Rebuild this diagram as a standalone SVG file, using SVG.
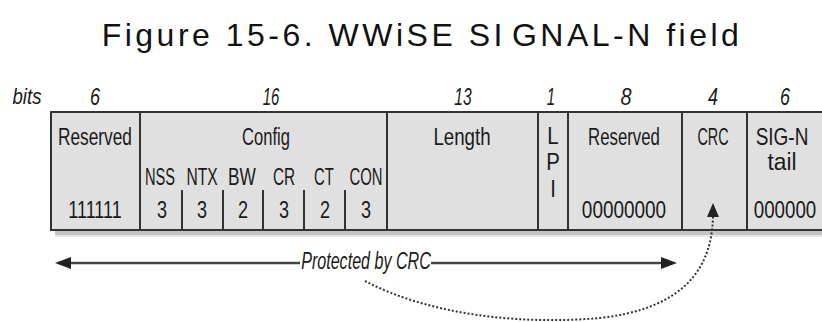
<svg xmlns="http://www.w3.org/2000/svg" width="822" height="322" viewBox="0 0 822 322">
<defs>
<style>
.title{font-family:"Liberation Sans",Arial,sans-serif;font-size:32px;fill:#111;letter-spacing:3.5px}
.t{font-family:"Liberation Sans",Arial,sans-serif;font-size:24px;fill:#1a1a1a;text-anchor:middle}
.i{font-family:"Liberation Sans",Arial,sans-serif;font-size:23px;font-style:italic;fill:#1a1a1a;text-anchor:middle}
.cell{fill:#e0e0e0;stroke:#333;stroke-width:2}
.div{stroke:#333;stroke-width:2;fill:none}
.arr{stroke:#444;stroke-width:2.5;fill:none}
.dot{stroke:#333;stroke-width:2;fill:none;stroke-dasharray:2 2}
.head{fill:#222}
</style>
</defs>
<rect width="822" height="322" fill="#fff"/>
<text class="title" x="422" y="46" text-anchor="middle">Figure 15-6. WWiSE SI<tspan dx="6">GNAL-N field</tspan></text>

<g id="bitwidths">
<text class="i" transform="matrix(0.81 0 0 1 27 104)">bits</text>
<text class="i" transform="matrix(0.78 0 0 1 95 105)">6</text>
<text class="i" transform="matrix(0.65 0 0 1 271 105)">16</text>
<text class="i" transform="matrix(0.68 0 0 1 463 105)">13</text>
<text class="i" transform="matrix(0.65 0 0 1 551 105)">1</text>
<text class="i" transform="matrix(0.86 0 0 1 626 105)">8</text>
<text class="i" transform="matrix(0.78 0 0 1 713 105)">4</text>
<text class="i" transform="matrix(0.78 0 0 1 785 105)">6</text>
</g>

<rect x="55" y="230" width="780" height="5" fill="#c4c4c4"/>
<rect x="55" y="235" width="780" height="2" fill="#e6e6e6"/>
<rect class="cell" x="51" y="112" width="790" height="118"/>

<g id="reserved1">
<text class="t" transform="matrix(0.72 0 0 1 95 145)">Reserved</text>
<text class="t" transform="matrix(0.75 0 0 1 95 218)">111111</text>
</g>
<g id="config">
<line class="div" x1="140" y1="112" x2="140" y2="230"/>
<text class="t" transform="matrix(0.69 0 0 1 266 145)">Config</text>
<text class="t" transform="matrix(0.61 0 0 1 160 185)">NSS</text>
<text class="t" transform="matrix(0.65 0 0 1 202 185)">NTX</text>
<text class="t" transform="matrix(0.72 0 0 1 242 185)">BW</text>
<text class="t" transform="matrix(0.64 0 0 1 284 185)">CR</text>
<text class="t" transform="matrix(0.62 0 0 1 324 185)">CT</text>
<text class="t" transform="matrix(0.62 0 0 1 366 185)">CON</text>
<line class="div" x1="182" y1="190" x2="182" y2="230"/>
<line class="div" x1="223" y1="190" x2="223" y2="230"/>
<line class="div" x1="263" y1="190" x2="263" y2="230"/>
<line class="div" x1="304" y1="190" x2="304" y2="230"/>
<line class="div" x1="345" y1="190" x2="345" y2="230"/>
<text class="t" transform="matrix(0.75 0 0 1 162 218)">3</text>
<text class="t" transform="matrix(0.75 0 0 1 202 218)">3</text>
<text class="t" transform="matrix(0.75 0 0 1 243 218)">2</text>
<text class="t" transform="matrix(0.75 0 0 1 284 218)">3</text>
<text class="t" transform="matrix(0.75 0 0 1 325 218)">2</text>
<text class="t" transform="matrix(0.75 0 0 1 366 218)">3</text>
</g>
<g id="length">
<line class="div" x1="387" y1="112" x2="387" y2="230"/>
<text class="t" transform="matrix(0.78 0 0 1 462 145)">Length</text>
</g>
<g id="lpi">
<line class="div" x1="538" y1="112" x2="538" y2="230"/>
<text class="t" font-size="20" transform="matrix(0.85 0 0 1 553 144)"><tspan x="0" y="0">L</tspan><tspan x="0" y="26">P</tspan><tspan x="0" y="53">I</tspan></text>
</g>
<g id="reserved2">
<line class="div" x1="568" y1="112" x2="568" y2="230"/>
<text class="t" transform="matrix(0.70 0 0 1 624 145)">Reserved</text>
<text class="t" transform="matrix(0.79 0 0 1 624 218)">00000000</text>
</g>
<g id="crc">
<line class="div" x1="682" y1="112" x2="682" y2="230"/>
<text class="t" transform="matrix(0.6 0 0 1 713 145)">CRC</text>
</g>
<g id="sign-tail">
<line class="div" x1="747" y1="112" x2="747" y2="230"/>
<text class="t" transform="matrix(0.79 0 0 1 782 145)">SIG-N</text>
<text class="t" transform="matrix(0.95 0 0 1 782 170)">tail</text>
<text class="t" transform="matrix(0.78 0 0 1 785 218)">000000</text>
</g>

<g id="connectors">
<line class="arr" x1="68" y1="263" x2="300" y2="263"/>
<polygon class="head" points="55,263 71,257 71,269"/>
<line class="arr" x1="431" y1="263" x2="664" y2="263"/>
<polygon class="head" points="677,263 661,257 661,269"/>
<text class="i" font-size="22" transform="matrix(0.70 0 0 1 366 269)">Protected by CRC</text>
<path class="dot" d="M365,281 C430,315 520,325 600,318 C670,310 712,280 713,216"/>
<polygon class="head" points="713,203 707,217 719,217"/>
</g>
</svg>
